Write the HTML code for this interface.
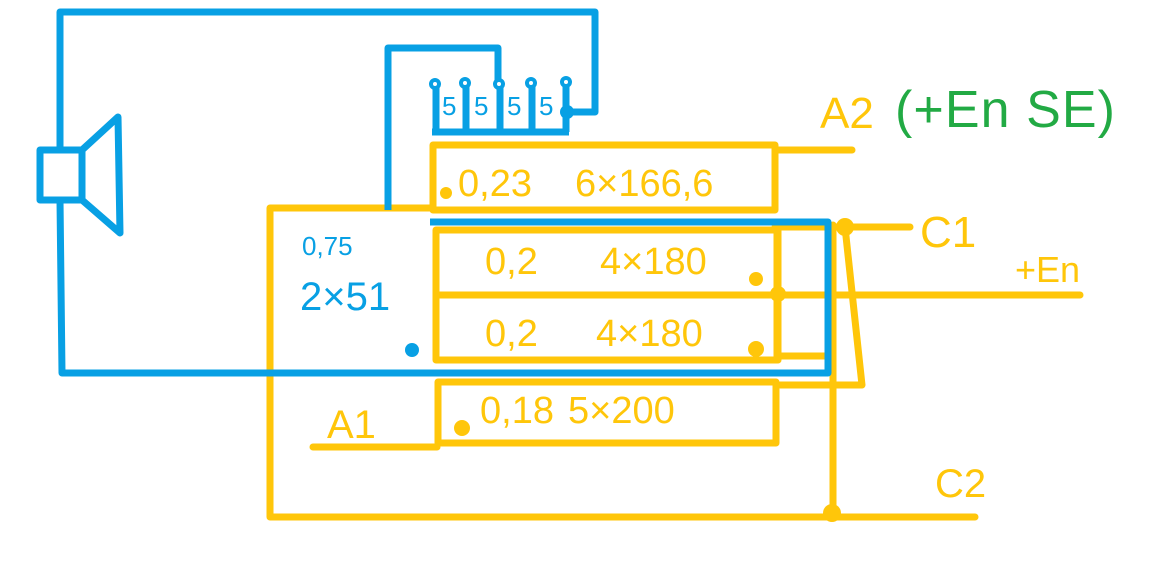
<!DOCTYPE html>
<html><head><meta charset="utf-8"><style>
html,body{margin:0;padding:0;background:#fff;width:1170px;height:577px;overflow:hidden}
svg{display:block}
text{font-family:"Liberation Sans",sans-serif}
</style></head><body>
<svg width="1170" height="577" viewBox="0 0 1170 577" xmlns="http://www.w3.org/2000/svg">
<g fill="none" stroke="#ffc60a" stroke-width="7" stroke-linejoin="round" stroke-linecap="round">
  <rect x="433" y="145" width="342" height="65"/>
  <rect x="436" y="230" width="341" height="130"/>
  <line x1="436" y1="295" x2="777" y2="295"/>
  <rect x="438" y="382" width="338" height="61"/>
  <polyline points="430,208 270,208 270,517 975,517"/>
  <line x1="833" y1="225" x2="833" y2="517"/>
  <line x1="775" y1="227" x2="910" y2="227"/>
  <polyline points="845,227 862,385 780,385"/>
  <line x1="780" y1="356" x2="828" y2="356"/>
  <line x1="778" y1="295" x2="1080" y2="295"/>
  <line x1="778" y1="230" x2="778" y2="360"/>
  <line x1="775" y1="150" x2="852" y2="150"/>
  <line x1="313" y1="447" x2="437" y2="447"/>
</g>
<g fill="#ffc60a">
  <circle cx="845" cy="227" r="9"/><circle cx="778" cy="294" r="8"/><circle cx="832" cy="513" r="9"/>
  <circle cx="446" cy="193" r="6"/><circle cx="756" cy="279" r="7"/><circle cx="756" cy="349" r="8"/><circle cx="462" cy="428" r="8"/>
</g>
<g fill="none" stroke="#08a0e4" stroke-width="7" stroke-linejoin="round">
  <polyline points="60,150 60,12 595,12 595,112 567,112"/>
  <polyline points="60,200 62,373 828,373 828,222 430,222"/>
  <polyline points="388,210 388,48 498,48 498,80"/>
  <rect x="40" y="150" width="42" height="50"/>
  <polygon points="82,150 118,117 120,233 82,200"/>
  <line x1="432" y1="132" x2="569" y2="132"/>
  <line x1="436" y1="88" x2="436" y2="132"/>
  <line x1="466" y1="86" x2="466" y2="132"/>
  <line x1="500" y1="86" x2="500" y2="132"/>
  <line x1="532" y1="86" x2="532" y2="132"/>
  <line x1="566" y1="86" x2="566" y2="132"/>
</g>
<g fill="none" stroke="#08a0e4" stroke-width="4">
  <circle cx="435" cy="84" r="4"/><circle cx="465" cy="83" r="4"/><circle cx="499" cy="84" r="4"/><circle cx="531" cy="83" r="4"/><circle cx="566" cy="82" r="4"/>
</g>
<g fill="#08a0e4"><circle cx="567" cy="112" r="7"/><circle cx="412" cy="350" r="7"/></g>
<g fill="#08a0e4" font-size="26">
  <text x="442" y="115">5</text><text x="474" y="115">5</text><text x="507" y="115">5</text><text x="539" y="115">5</text>
  <text x="302" y="255" font-size="26">0,75</text>
  <text x="300" y="310" font-size="40">2×51</text>
</g>
<g fill="#ffc60a" font-size="38">
  <text x="458" y="196">0,23</text><text x="575" y="196">6×166,6</text>
  <text x="485" y="274">0,2</text><text x="600" y="274">4×180</text>
  <text x="485" y="346">0,2</text><text x="596" y="346">4×180</text>
  <text x="480" y="423">0,18</text><text x="568" y="423">5×200</text>
  <text x="327" y="438" font-size="40">A1</text>
  <text x="820" y="128" font-size="44">A2</text>
  <text x="920" y="247" font-size="44">C1</text>
  <text x="1015" y="282" font-size="36">+En</text>
  <text x="935" y="497" font-size="40">C2</text>
</g>
<text x="895" y="127" fill="#22aa44" font-size="52" textLength="220">(+En SE)</text>
</svg>
</body></html>
